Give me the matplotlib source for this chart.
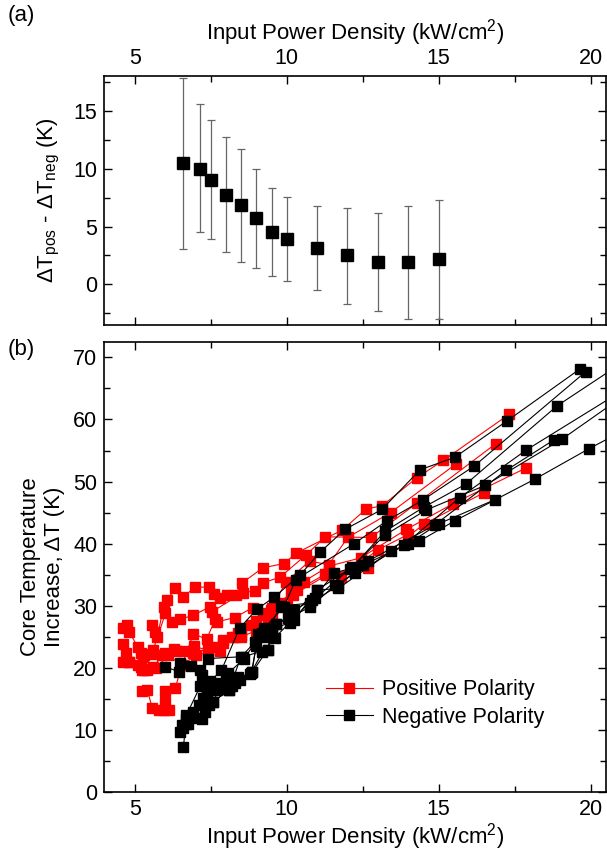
import numpy as np
import matplotlib
matplotlib.use('Agg')
import matplotlib.pyplot as plt
from matplotlib.ticker import MultipleLocator

plt.rcParams['font.family'] = ['Liberation Sans', 'DejaVu Sans']
plt.rcParams['mathtext.default'] = 'regular'

# (a) difference pos - neg, with error bars
diff_x = [6.6, 7.15, 7.5, 8.0, 8.5, 9.0, 9.5, 10.0, 11.0, 12.0, 13.0, 14.0, 15.0]
diff_y = [10.45, 10.0, 9.05, 7.75, 6.85, 5.7, 4.55, 3.9, 3.15, 2.5, 1.95, 1.9, 2.2]
diff_lo = [3.1, 4.5, 3.9, 2.8, 1.95, 1.4, 0.75, 0.3, -0.5, -1.65, -2.3, -2.95, -3.0]
diff_hi = [17.8, 15.55, 14.2, 12.75, 11.7, 9.95, 8.35, 7.55, 6.8, 6.6, 6.2, 6.8, 7.3]

# (b) positive polarity runs
pos1_x = [5.58, 5.68, 5.74, 5.95, 6.06, 6.33, 6.60, 6.98, 7.45, 7.62, 7.80, 8.02, 8.32, 8.54, 9.21, 9.91, 10.32, 11.83, 12.62, 13.14, 14.28, 15.15, 17.31]
pos1_y = [26.9, 25.8, 25.0, 29.8, 30.9, 32.8, 31.4, 33.0, 33.0, 31.9, 31.2, 31.7, 31.7, 33.7, 36.1, 36.8, 38.5, 42.2, 45.6, 46.1, 50.6, 53.4, 60.8]
pos2_x = [4.60, 4.76, 4.82, 5.09, 5.20, 5.26, 5.60, 6.01, 6.23, 6.50, 6.93, 7.47, 7.53, 8.56, 8.96, 9.23, 9.78, 10.64, 11.27, 12.77, 14.28, 16.88]
pos2_y = [26.4, 26.9, 25.8, 23.4, 22.4, 21.7, 22.8, 28.8, 27.4, 27.8, 28.5, 29.8, 29.0, 32.1, 32.4, 33.7, 34.6, 38.2, 41.1, 41.0, 46.5, 56.1]
pos3_x = [4.60, 4.71, 4.82, 5.20, 5.30, 5.41, 5.60, 6.00, 6.55, 6.93, 7.36, 7.65, 7.70, 8.29, 8.88, 9.21, 9.48, 9.97, 10.75, 11.38, 12.01, 13.42, 15.56]
pos3_y = [23.9, 22.4, 21.0, 20.2, 19.6, 19.6, 20.2, 22.4, 20.4, 25.5, 24.6, 27.8, 27.4, 28.1, 29.7, 28.5, 29.3, 33.8, 37.2, 36.6, 41.0, 45.0, 52.8]
pos4_x = [4.60, 4.82, 5.09, 5.25, 5.41, 5.70, 6.10, 6.35, 6.60, 6.90, 7.68, 7.80, 8.29, 8.39, 8.83, 9.26, 9.50, 10.15, 10.56, 11.40, 12.43, 13.94, 15.46, 17.88]
pos4_y = [21.0, 21.0, 20.5, 19.6, 19.8, 20.0, 22.0, 22.7, 22.7, 22.4, 23.3, 22.7, 25.0, 25.6, 26.9, 28.8, 29.6, 32.0, 33.9, 36.4, 37.7, 42.3, 46.4, 52.2]
pos5_x = [5.25, 5.41, 5.58, 5.80, 5.96, 6.12, 6.01, 6.01, 6.33, 6.55, 7.00, 7.40, 7.90, 8.20, 8.50, 9.00, 9.50, 10.00, 10.35, 11.27, 12.66, 14.53, 16.49]
pos5_y = [16.2, 16.4, 13.5, 13.2, 13.2, 13.2, 14.5, 16.2, 16.7, 20.4, 22.0, 22.5, 24.0, 25.0, 25.0, 26.0, 28.0, 30.0, 32.5, 35.1, 36.0, 43.2, 48.2]
pos6_x = [5.30, 5.55, 5.90, 6.30, 6.95, 7.40, 7.90, 8.50, 9.00, 9.40, 9.80, 10.20, 11.30, 11.77, 13.00, 14.00]
pos6_y = [22.0, 22.3, 22.0, 23.0, 23.5, 22.8, 24.5, 25.3, 27.5, 28.0, 30.5, 31.7, 34.9, 34.6, 39.0, 41.5]

# (b) negative polarity runs
neg1_x = [6.60, 6.70, 6.93, 7.10, 7.48, 7.85, 8.45, 9.01, 9.59, 10.45, 11.09, 11.92, 13.13, 14.39, 15.53, 17.26, 19.64]
neg1_y = [7.3, 11.8, 12.9, 14.0, 17.8, 19.6, 26.4, 29.4, 31.4, 35.0, 38.6, 42.3, 45.5, 51.9, 53.9, 59.8, 68.1]
neg2_x = [6.50, 6.60, 6.76, 7.20, 7.31, 7.58, 8.10, 8.50, 8.97, 9.26, 9.91, 10.29, 12.22, 13.30, 14.47, 16.17, 19.84]
neg2_y = [9.7, 10.3, 11.0, 11.8, 12.9, 14.5, 16.5, 21.8, 24.2, 26.4, 29.8, 34.2, 40.0, 43.7, 47.0, 52.5, 67.7]
neg3_x = [6.55, 6.70, 7.15, 7.37, 7.69, 8.07, 8.60, 9.18, 9.64, 10.08, 10.99, 12.16, 13.24, 14.52, 15.90, 18.90, 21.0]
neg3_y = [10.8, 12.4, 17.0, 16.1, 17.6, 19.1, 21.5, 25.6, 27.1, 28.0, 32.5, 36.2, 42.0, 45.9, 49.6, 62.2, 69.0]
neg4_x = [5.98, 6.44, 6.85, 7.15, 7.42, 8.56, 9.37, 9.50, 10.24, 10.94, 12.07, 13.24, 14.58, 16.54, 19.05, 21.0]
neg4_y = [20.2, 19.4, 20.3, 19.6, 21.5, 21.8, 22.9, 26.0, 29.3, 31.2, 35.9, 41.4, 45.4, 49.4, 56.8, 63.5]
neg5_x = [6.50, 7.20, 7.37, 7.85, 8.30, 8.83, 9.00, 9.26, 9.80, 10.78, 11.68, 12.68, 14.87, 17.22, 18.79]
neg5_y = [20.7, 18.8, 16.1, 16.6, 17.5, 19.1, 23.5, 25.0, 30.0, 30.4, 33.2, 37.2, 43.0, 51.8, 56.7]
neg6_x = [7.26, 7.58, 8.10, 8.45, 8.86, 9.37, 9.64, 10.03, 10.78, 11.59, 12.25, 13.87, 15.69, 17.89, 21.0]
neg6_y = [15.1, 14.5, 16.5, 18.0, 19.3, 22.9, 27.1, 28.0, 29.8, 33.3, 35.2, 39.8, 47.4, 55.1, 64.5]
neg7_x = [6.70, 7.00, 7.45, 7.90, 8.20, 8.86, 9.05, 9.50, 10.24, 11.00, 11.70, 13.44, 14.36, 15.54, 18.17, 19.95, 21.0]
neg7_y = [11.0, 12.0, 14.0, 17.0, 17.0, 19.3, 25.5, 26.0, 27.7, 32.5, 32.8, 38.8, 40.4, 43.7, 50.4, 55.3, 58.0]
neg8_x = [7.69, 8.00, 8.40, 8.80, 9.20, 9.60, 10.10, 10.83, 11.57, 12.50, 14.00, 15.00, 16.86]
neg8_y = [16.5, 18.0, 18.5, 19.0, 22.5, 24.8, 27.3, 30.9, 35.3, 36.5, 40.0, 43.2, 47.1]

pos_runs = [(pos1_x, pos1_y), (pos2_x, pos2_y), (pos3_x, pos3_y),
            (pos4_x, pos4_y), (pos5_x, pos5_y), (pos6_x, pos6_y)]
neg_runs = [(neg1_x, neg1_y), (neg2_x, neg2_y), (neg3_x, neg3_y), (neg4_x, neg4_y),
            (neg5_x, neg5_y), (neg6_x, neg6_y), (neg7_x, neg7_y), (neg8_x, neg8_y)]

xlabel = 'Input Power Density (kW/cm$^2$)'
fs = 16     # axis labels
tfs = 15.5  # tick labels

fig = plt.figure(figsize=(6.07, 8.51), dpi=100)
ax1 = fig.add_axes([0.172, 0.618, 0.826, 0.293])
ax2 = fig.add_axes([0.172, 0.0693, 0.826, 0.529])

def style(ax):
    for s in ax.spines.values():
        s.set_linewidth(1.2)
    ax.tick_params(which='both', direction='in', top=True, right=True,
                   width=1.0, labelsize=tfs)
    ax.tick_params(which='major', length=6, pad=5)
    ax.tick_params(which='minor', length=4)
    ax.xaxis.set_major_locator(MultipleLocator(5))
    ax.xaxis.set_minor_locator(MultipleLocator(2.5))
    ax.set_xlim(4.0, 20.5)

# panel (a)
style(ax1)
yerr = [np.array(diff_y) - np.array(diff_lo), np.array(diff_hi) - np.array(diff_y)]
ax1.errorbar(diff_x, diff_y, yerr=yerr, fmt='s', color='black', ms=8,
             ecolor='#666666', elinewidth=0.9, capsize=3, capthick=0.9)
ax1.set_ylim(-3.5, 18)
ax1.yaxis.set_major_locator(MultipleLocator(5))
ax1.yaxis.set_minor_locator(MultipleLocator(2.5))
ax1.tick_params(labeltop=True, labelbottom=False)
ax1.xaxis.set_label_position('top')
ax1.set_xlabel(xlabel, fontsize=fs, labelpad=6)
ax1.set_ylabel('ΔT$_{pos}$ - ΔT$_{neg}$ (K)', fontsize=fs, labelpad=8)

# panel (b)
style(ax2)
for i, (x, y) in enumerate(pos_runs):
    ax2.plot(x, y, '-s', color='red', lw=0.8, ms=7,
             label='Positive Polarity' if i == 0 else None, zorder=2)
for i, (x, y) in enumerate(neg_runs):
    ax2.plot(x, y, '-s', color='black', lw=0.8, ms=7,
             label='Negative Polarity' if i == 0 else None, zorder=3)
ax2.set_ylim(0, 72.5)
ax2.yaxis.set_major_locator(MultipleLocator(10))
ax2.yaxis.set_minor_locator(MultipleLocator(5))
ax2.set_xlabel(xlabel, fontsize=fs, labelpad=1)
ax2.set_ylabel('Core Temperature\nIncrease, ΔT (K)', fontsize=fs, labelpad=6)
ax2.legend(loc='lower right', bbox_to_anchor=(0.915, 0.1), frameon=False,
           fontsize=tfs, handlelength=2.2, handletextpad=0.4, labelspacing=0.3)

fig.text(0.012, 0.975, '(a)', fontsize=fs)
fig.text(0.012, 0.583, '(b)', fontsize=fs)

fig.savefig('out.png', dpi=100)
